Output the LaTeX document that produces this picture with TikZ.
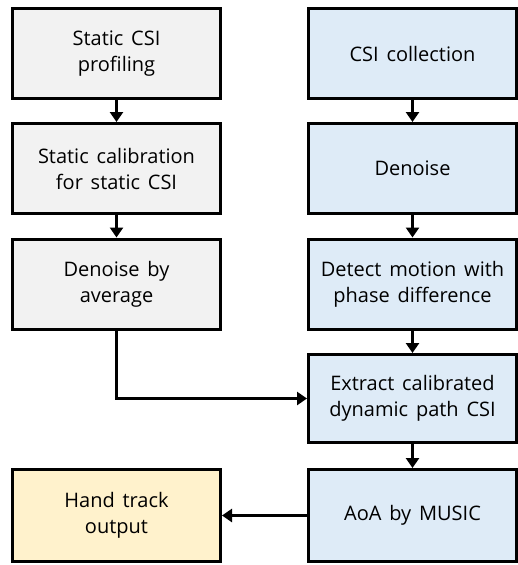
\documentclass[tikz,border=0pt]{standalone}
\usepackage{fontspec}
\setmainfont{Open Sans}[WordSpace={1.5,0,0}]
\usetikzlibrary{arrows.meta}
\definecolor{staticfill}{HTML}{F2F2F2}
\definecolor{dynfill}{HTML}{DEEBF7}
\definecolor{outfill}{HTML}{FFF2CC}
\tikzset{
  box/.style={draw=black, line width=3pt, minimum width=208pt, minimum height=90pt,
    align=center, inner sep=2pt, font=\fontsize{20}{26}\selectfont},
  sbox/.style={box, fill=staticfill},
  dbox/.style={box, fill=dynfill},
  obox/.style={box, fill=outfill},
  flow/.style={line width=3pt, -{Triangle[width=13pt,length=10pt]}}
}
\begin{document}
\begin{tikzpicture}[x=1pt,y=1pt]
  \useasboundingbox (0,0) rectangle (518,-565);
  % static branch
  \node[sbox] (s1) at (116.5,-53.5) {Static CSI\\profiling};
  \node[sbox] (s2) at (116.5,-168.5) {Static calibration\\for static CSI};
  \node[sbox] (s3) at (116.5,-284) {Denoise by\\average};
  % dynamic branch
  \node[dbox] (d1) at (412.5,-53.5) {CSI collection};
  \node[dbox] (d2) at (412.5,-168.5) {Denoise};
  \node[dbox] (d3) at (412.5,-284) {Detect motion with\\phase difference};
  \node[dbox, minimum height=88pt] (d4) at (412.5,-398.5) {Extract calibrated\\dynamic path CSI};
  \node[dbox, minimum height=92pt] (d5) at (412.5,-515.5) {AoA by MUSIC};
  % output
  \node[obox, minimum height=92pt] (o1) at (116.5,-515.5) {Hand track\\output};
  % connectors
  \draw[flow] (s1) -- (s2);
  \draw[flow] (s2) -- (s3);
  \draw[flow] (d1) -- (d2);
  \draw[flow] (d2) -- (d3);
  \draw[flow] (d3) -- (d4);
  \draw[flow] (d4) -- (d5);
  \draw[flow] (s3.south) |- (d4.west);
  \draw[flow] (d5) -- (o1);
\end{tikzpicture}
\end{document}
